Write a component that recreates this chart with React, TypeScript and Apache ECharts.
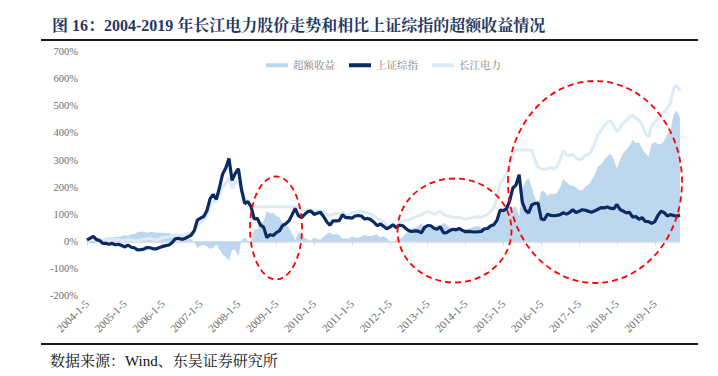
import React, { useEffect, useRef } from "react";
import * as echarts from "echarts";

const TITLE = "图 16：2004-2019 年长江电力股价走势和相比上证综指的超额收益情况";
const SOURCE = "数据来源：Wind、东吴证券研究所";
const NAME_EXCESS = "超额收益";
const NAME_SSE = "上证综指";
const NAME_CJ = "长江电力";

const yearTickLabels = [
  "2004-1-5", "2005-1-5", "2006-1-5", "2007-1-5", "2008-1-5", "2009-1-5", "2010-1-5", "2011-1-5",
  "2012-1-5", "2013-1-5", "2014-1-5", "2015-1-5", "2016-1-5", "2017-1-5", "2018-1-5", "2019-1-5",
];
const yTicks = [-200, -100, 0, 100, 200, 300, 400, 500, 600, 700];

// monthly readings (%), Jan 2004 .. Sep 2019
const sseReturn = [
  6, 12, 19, 7, 4, -7, -7, -10, -7, -12, -10, -15, // 2004
  -20, -13, -21, -23, -31, -30, -28, -22, -23, -27, -27, -22, // 2005
  -18, -15, -13, -4, 10, 12, 8, 11, 17, 23, 40, 79, // 2006
  86, 92, 113, 157, 174, 155, 199, 249, 271, 306, 225, 251, // 2007
  268, 190, 140, 147, 129, 83, 85, 60, 53, 15, 25, 22, // 2008
  33, 39, 59, 65, 76, 98, 122, 95, 88, 100, 110, 112, // 2009
  100, 104, 108, 92, 73, 60, 76, 76, 77, 99, 88, 88, // 2010
  86, 94, 96, 94, 83, 85, 80, 71, 58, 65, 56, 47, // 2011
  53, 62, 51, 60, 59, 49, 40, 37, 39, 38, 32, 52, // 2012
  59, 58, 49, 45, 54, 32, 33, 40, 45, 43, 48, 41, // 2013
  36, 37, 36, 35, 36, 37, 47, 48, 58, 62, 79, 116, // 2014
  114, 121, 150, 197, 208, 246, 145, 115, 105, 135, 140, 142, // 2015
  83, 80, 101, 96, 95, 96, 99, 106, 101, 107, 117, 107, // 2016
  111, 117, 115, 111, 108, 113, 119, 125, 124, 127, 122, 121, // 2017
  136, 118, 112, 106, 107, 90, 92, 82, 88, 74, 73, 67, // 2018
  73, 96, 112, 106, 94, 99, 96, 93, 98, // 2019
];

const cjReturn = [
  3, 8, 10, 8, 6, 4, 5, 5, 8, 6, 8, 5, // 2004
  4, 8, 6, 5, 3, 6, 8, 10, 12, 8, 5, 10, // 2005
  14, 16, 18, 20, 25, 24, 22, 25, 28, 30, 38, 55, // 2006
  70, 80, 95, 130, 150, 145, 170, 200, 215, 235, 195, 220, // 2007
  215, 195, 155, 150, 130, 128, 128, 128, 128, 128, 128, 128, // 2008
  128, 128, 128, 128, 128, 128, 128, 128, 115, 112, 118, 115, // 2009
  115, 112, 115, 110, 100, 95, 100, 105, 100, 108, 100, 98, // 2010
  105, 108, 110, 112, 108, 105, 100, 95, 85, 80, 75, 60, // 2011
  55, 60, 58, 68, 75, 78, 80, 85, 90, 95, 98, 105, // 2012
  110, 108, 100, 105, 112, 100, 95, 92, 90, 88, 90, 85, // 2013
  82, 85, 88, 90, 92, 88, 95, 100, 110, 125, 160, 215, // 2014
  230, 250, 280, 320, 337, 337, 337, 337, 337, 337, 300, 275, // 2015
  268, 265, 270, 272, 268, 275, 300, 335, 320, 315, 322, 308, // 2016
  300, 305, 318, 320, 335, 360, 395, 410, 425, 440, 445, 425, // 2017
  405, 420, 437, 445, 460, 465, 455, 447, 430, 400, 385, 425, // 2018
  440, 455, 470, 478, 490, 510, 565, 575, 555, // 2019
];

const excessReturn = [
  -3, -4, -9, 1, 2, 11, 12, 15, 15, 18, 18, 20, // 2004
  24, 21, 27, 28, 34, 36, 36, 32, 35, 35, 32, 32, // 2005
  32, 31, 31, 24, 15, 12, 14, 14, 11, 7, -2, -24, // 2006
  -16, -12, -18, -27, -24, -10, -29, -49, -56, -71, -30, -31, // 2007
  -53, 5, 15, 3, 1, 45, 43, 68, 75, 113, 103, 106, // 2008
  95, 89, 69, 63, 52, 30, 6, 33, 27, 12, 8, 3, // 2009
  15, 8, 7, 18, 27, 35, 24, 29, 23, 9, 12, 10, // 2010
  19, 14, 14, 18, 25, 20, 20, 24, 27, 15, 19, 13, // 2011
  2, -2, 7, 8, 16, 29, 40, 48, 51, 57, 66, 53, // 2012
  51, 50, 51, 60, 58, 68, 62, 52, 45, 45, 42, 44, // 2013
  46, 48, 52, 55, 56, 51, 48, 52, 52, 63, 81, 99, // 2014
  116, 129, 130, 123, 129, 91, 192, 222, 232, 202, 160, 133, // 2015
  185, 185, 169, 176, 173, 179, 201, 229, 219, 208, 205, 201, // 2016
  189, 188, 203, 209, 227, 247, 276, 285, 301, 313, 323, 304, // 2017
  269, 302, 325, 339, 353, 375, 363, 365, 342, 326, 312, 358, // 2018
  367, 359, 358, 372, 396, 411, 469, 482, 457, // 2019
];

const START_YEAR = 2004;
const months: string[] = [];
for (let i = 0; i < sseReturn.length; i++) {
  months.push(`${START_YEAR + Math.floor(i / 12)}-${(i % 12) + 1}`);
}

const SERIF = '"Liberation Serif", "Times New Roman", "Noto Serif CJK SC", "Noto Sans CJK SC", serif';

export default function App() {
  const ref = useRef<HTMLDivElement>(null);
  useEffect(() => {
    if (!ref.current) return;
    const chart = echarts.init(ref.current, undefined, { renderer: "svg" });
    const isYearStart = (i: number) => i % 12 === 0;
    const option: any = {
      animation: false,
      backgroundColor: "#ffffff",
      grid: { left: 87, right: 38, top: 51.5, bottom: 80.2, containLabel: false },
      legend: {
        left: 261,
        top: 55,
        itemWidth: 22,
        itemHeight: 4,
        itemGap: 14,
        textStyle: { color: "#808080", fontSize: 10.5, fontFamily: SERIF },
        data: [
          { name: NAME_EXCESS, icon: "rect" },
          { name: NAME_SSE, icon: "rect" },
          { name: NAME_CJ, icon: "rect" },
        ],
      },
      xAxis: [
        {
          type: "category",
          data: months,
          boundaryGap: false,
          position: "bottom",
          axisLine: { show: false, onZero: false },
          axisTick: { show: false },
          splitLine: { show: false },
          axisLabel: {
            interval: (i: number) => isYearStart(i),
            rotate: 45,
            margin: 6,
            fontSize: 11,
            color: "#6b6b6b",
            fontFamily: SERIF,
            formatter: (_v: string, i: number) => (isYearStart(i) ? yearTickLabels[i / 12] : ""),
          },
        },
        {
          type: "category",
          data: months,
          boundaryGap: false,
          position: "bottom",
          axisLine: { show: true, onZero: true, lineStyle: { color: "#d9d9d9", width: 1.5 } },
          axisTick: { show: true, interval: (i: number) => isYearStart(i), length: 4, lineStyle: { color: "#d9d9d9" } },
          axisLabel: { show: false },
          splitLine: { show: false },
        },
      ],
      yAxis: {
        type: "value",
        min: yTicks[0],
        max: yTicks[yTicks.length - 1],
        interval: 100,
        splitLine: { show: false },
        axisLine: { show: false },
        axisTick: { show: false },
        axisLabel: { formatter: "{value}%", fontSize: 10.5, color: "#6b6b6b", fontFamily: SERIF, margin: 9 },
      },
      series: [
        {
          name: NAME_EXCESS,
          type: "line",
          data: excessReturn,
          symbol: "none",
          lineStyle: { width: 0, opacity: 0 },
          itemStyle: { color: "#BDD7EE" },
          areaStyle: { color: "#BDD7EE", opacity: 1 },
          z: 1,
        },
        {
          name: NAME_CJ,
          type: "line",
          data: cjReturn,
          symbol: "none",
          lineStyle: { width: 3, color: "#DDEBF7" },
          itemStyle: { color: "#DDEBF7" },
          z: 2,
        },
        {
          name: NAME_SSE,
          type: "line",
          data: sseReturn,
          symbol: "none",
          lineStyle: { width: 3.2, color: "#0a2a64" },
          itemStyle: { color: "#0a2a64" },
          z: 3,
        },
      ],
      graphic: [
        {
          type: "text",
          left: 52,
          top: 17,
          z: 100,
          style: { text: TITLE, font: `bold 16px ${SERIF}`, fill: "#1F3864" },
        },
        { type: "line", z: 100, shape: { x1: 41, y1: 40, x2: 698, y2: 40 }, style: { stroke: "#1a1a1a", lineWidth: 2 } },
        { type: "line", z: 100, shape: { x1: 41, y1: 344, x2: 698, y2: 344 }, style: { stroke: "#1a1a1a", lineWidth: 2 } },
        {
          type: "text",
          left: 50,
          top: 353,
          z: 100,
          style: { text: SOURCE, font: `15px ${SERIF}`, fill: "#111111" },
        },
        {
          type: "ellipse",
          z: 100,
          shape: { cx: 276, cy: 228, rx: 26, ry: 51.5 },
          style: { fill: "none", stroke: "#ff0000", lineWidth: 1.8, lineDash: [6, 4] },
        },
        {
          type: "ellipse",
          z: 100,
          shape: { cx: 454.5, cy: 230.5, rx: 57, ry: 52 },
          style: { fill: "none", stroke: "#ff0000", lineWidth: 1.8, lineDash: [6, 4] },
        },
        {
          type: "ellipse",
          z: 100,
          shape: { cx: 595, cy: 182, rx: 87, ry: 101 },
          style: { fill: "none", stroke: "#ff0000", lineWidth: 1.8, lineDash: [6, 4] },
        },
      ],
    };
    chart.setOption(option);
    return () => chart.dispose();
  }, []);
  return (
    <div
      ref={ref}
      style={{ position: "absolute", left: 0, top: 0, width: 718, height: 376, background: "#ffffff" }}
    />
  );
}
